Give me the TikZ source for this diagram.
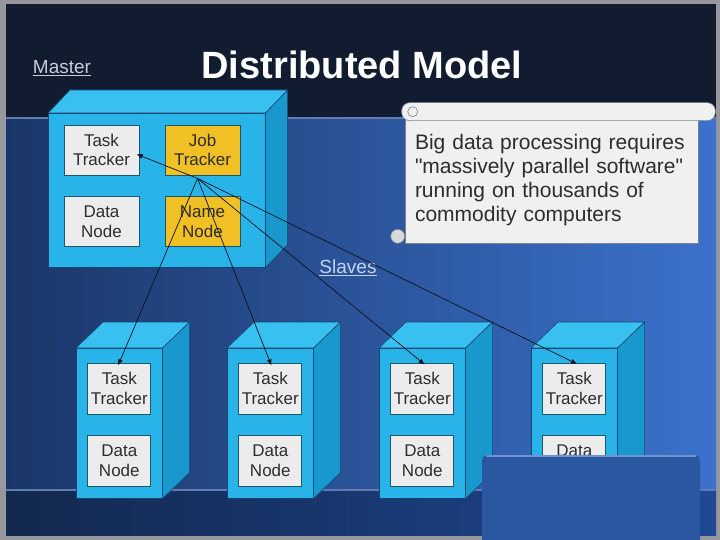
\documentclass[tikz,border=0pt]{standalone}
\usepackage{fontspec}
\setmainfont{Liberation Sans}[Ligatures=TeXOff]
\usepackage{tikz}
\usetikzlibrary{arrows.meta, positioning, calc}
\definecolor{slFrame}{RGB}{150,152,158}
\definecolor{slTop}{RGB}{17,28,48}
\definecolor{slMidL}{RGB}{26,54,104}
\definecolor{slMidR}{RGB}{60,114,204}
\definecolor{slLowL}{RGB}{18,40,78}
\definecolor{slLowR}{RGB}{32,72,148}
\definecolor{slRule}{RGB}{96,124,176}
\definecolor{cubeFront}{RGB}{40,180,232}
\definecolor{cubeTop}{RGB}{56,192,240}
\definecolor{cubeSide}{RGB}{24,152,204}
\definecolor{cubeEdge}{RGB}{18,70,112}
\definecolor{boxGray}{RGB}{236,236,236}
\definecolor{boxYellow}{RGB}{240,192,36}
\definecolor{boxEdge}{RGB}{30,86,104}
\definecolor{boxText}{RGB}{45,45,45}
\definecolor{arrInk}{RGB}{8,16,30}
\definecolor{lblMaster}{RGB}{200,204,216}
\definecolor{lblSlave}{RGB}{196,210,242}
\definecolor{scrollFill}{RGB}{240,240,240}
\definecolor{scrollEdge}{RGB}{120,130,145}
\definecolor{ovlFill}{RGB}{43,86,160}
\definecolor{ovlEdge}{RGB}{110,146,208}

\begin{document}
\begin{tikzpicture}[x=1pt,y=-1pt,
  cubefront/.style={draw=cubeEdge,fill=cubeFront,line width=0.6pt,
                    anchor=north west,inner sep=0pt},
  cubetop/.style={draw=cubeEdge,fill=cubeTop,line width=0.6pt,line join=round},
  cubeside/.style={draw=cubeEdge,fill=cubeSide,line width=0.6pt,line join=round},
  grybox/.style={draw=boxEdge,fill=boxGray,line width=0.8pt,
                 minimum width=75pt,minimum height=50pt,inner sep=0pt,
                 align=center,text=boxText,font=\fontsize{17}{19.5}\selectfont},
  ylwbox/.style={grybox,fill=boxYellow},
  slvbox/.style={grybox,minimum width=63pt,minimum height=51pt},
  lbl/.style={font=\fontsize{19}{22}\selectfont},
  scrollbox/.style={draw=scrollEdge,fill=scrollFill,line width=0.6pt,
                    text width=273pt,inner xsep=10pt,minimum height=125pt,
                    align=left,text=boxText,font=\fontsize{21}{24}\selectfont},
  arr/.style={-{Latex[length=6pt,width=5pt]},line width=0.7pt,draw=arrInk,
              shorten >=-3pt}]
\useasboundingbox (0,0) rectangle (720,540);

% ===== slide background =====
\fill[slFrame] (0,0) rectangle (720,540);
\fill[slTop] (6,4) rectangle (716,118);
\shade[left color=slMidL,right color=slMidR] (6,118) rectangle (716,490);
\shade[left color=slLowL,right color=slLowR] (6,490) rectangle (716,535);
\draw[slRule,line width=1.2pt] (6,118) -- (716,118);
\draw[slRule,line width=1.2pt] (6,490) -- (716,490);

% ===== titles =====
\node[font=\fontsize{38}{44}\selectfont\bfseries,text=white] (ttl) at (362,65) {Distributed Model};
\node[lbl,text=lblMaster] (lbm) at (62,68) {\underline{Master}};
\node[lbl,text=lblSlave] (lbs) at (348,268) {\underline{Slaves}};

% ===== MASTER cube =====
\node[cubefront,minimum width=217pt,minimum height=154pt] (m) at (48,113) {};
\draw[cubetop] (m.north west) -- ($(m.north west)+(22,-23)$)
   -- ($(m.north east)+(22,-23)$) -- (m.north east) -- cycle;
\draw[cubeside] (m.north east) -- ($(m.north east)+(22,-23)$)
   -- ($(m.south east)+(22,-23)$) -- (m.south east) -- cycle;
% Boxes inside the master
\node[grybox] (mtt) at (101.5,150) {Task\\Tracker};
\node[ylwbox] (mjt) at (202.5,150) {Job\\Tracker};
\node[grybox] (mdn) at (101.5,221.5) {Data\\Node};
\node[ylwbox] (mnn) at (202.5,221.5) {Name\\Node};
\coordinate (hub) at ($(mjt.south)+(-5,3)$);

% ===== SLAVE cubes =====
\foreach \i/\x in {1/76,2/227,3/379,4/531}{
  \node[cubefront,minimum width=86pt,minimum height=150pt] (s\i) at (\x,348) {};
  \draw[cubetop] (s\i.north west) -- ($(s\i.north west)+(27,-26)$)
     -- ($(s\i.north east)+(27,-26)$) -- (s\i.north east) -- cycle;
  \draw[cubeside] (s\i.north east) -- ($(s\i.north east)+(27,-26)$)
     -- ($(s\i.south east)+(27,-26)$) -- (s\i.south east) -- cycle;
  \node[slvbox] (tt\i) at ($(s\i.north)+(0,40.5)$) {Task\\Tracker};
  \node[slvbox] (dn\i) at ($(s\i.north)+(0,112.5)$) {Data\\Node};
}

% ===== callout scroll =====
\node[scrollbox] (note) at (551.5,180.5)
   {Big data processing requires\\
    "massively parallel software"\\
    running on thousands of\\
    commodity computers};
\draw[draw=scrollEdge,fill=scrollFill,line width=0.6pt,rounded corners=8pt]
   ($(note.north west)+(-3,-15)$) rectangle ($(note.north east)+(17,3)$);
\draw[draw=scrollEdge,fill=scrollFill,line width=0.6pt]
   ($(note.north west)+(8,-6)$) circle (5);
\draw[draw=scrollEdge,fill=scrollFill!90!black,line width=0.6pt]
   ($(note.south west)+(-7,-7)$) circle (7);

% Arrows from the Job Tracker to every Task Tracker
\draw[arr] (hub) -- (mtt.-8);
\draw[arr] (hub) -- (tt1.north);
\draw[arr] (hub) -- (tt2.north);
\draw[arr] (hub) -- (tt3.north);
\draw[arr] (hub) -- (tt4.north);

% ===== overlay panel, bottom right =====
\fill[ovlFill,rounded corners=5pt] (482,455) rectangle (700,548);
\draw[ovlEdge,line width=1.5pt] (486,456) -- (696,456);
\end{tikzpicture}
\end{document}
